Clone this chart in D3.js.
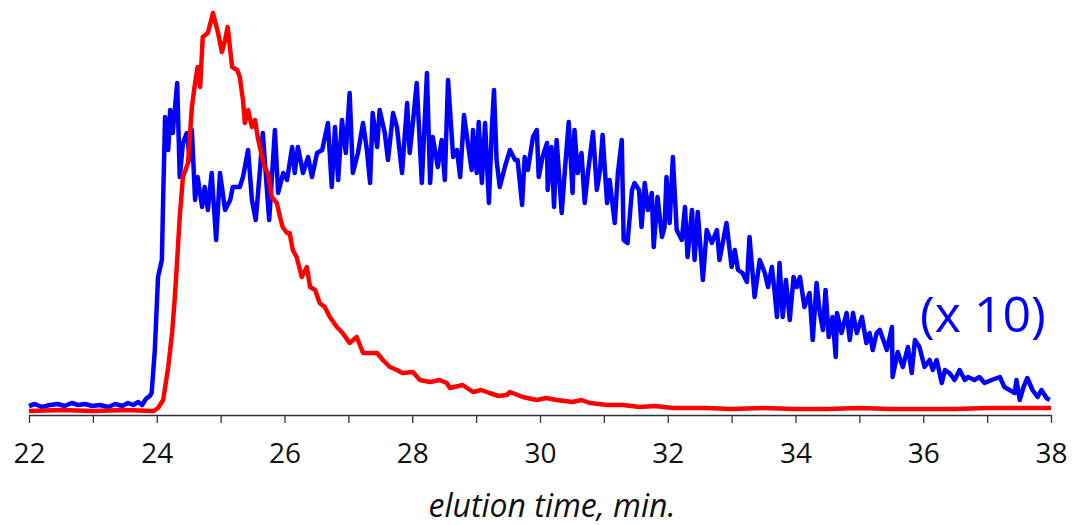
<!DOCTYPE html>
<html>
<head>
<meta charset="utf-8">
<script src="https://cdn.jsdelivr.net/npm/d3@7"></script>
<style>
  body { margin: 0; background: #fff; }
  svg { display: block; }
</style>
</head>
<body>
<div id="chart"></div>
<script>
//Constantes
const width = 1078
const height = 525

// elution time (min) / signal (a.u.)
// red = main trace
const redTrace = [
  [22.00, 0], [22.50, 0.25], [23.00, 0], [23.50, 0.25], [23.95, 0], [24.02, 0.75], [24.10, 2.75],
  [24.18, 11], [24.24, 19.5], [24.28, 27.75], [24.32, 37.75], [24.36, 48.5], [24.41, 58.5],
  [24.49, 62], [24.55, 76], [24.60, 82], [24.64, 86], [24.68, 81], [24.72, 93.5], [24.80, 94.5],
  [24.88, 99.5], [24.96, 94.5], [25.02, 89.75], [25.07, 92.75], [25.11, 96], [25.18, 86],
  [25.26, 85.25], [25.30, 83.5], [25.35, 77.75], [25.38, 72], [25.43, 75.25], [25.49, 71],
  [25.54, 72.75], [25.58, 68.5], [25.65, 63.5], [25.69, 61], [25.74, 59.5], [25.80, 53.5],
  [25.88, 52], [25.93, 48.5], [25.97, 46], [26.04, 44.5], [26.08, 44.5], [26.13, 40.25],
  [26.19, 38.5], [26.27, 33.5], [26.35, 36], [26.40, 31], [26.48, 30.25], [26.55, 27],
  [26.63, 26], [26.71, 23.5], [26.82, 21], [26.91, 19.5], [27.02, 17], [27.13, 18.5],
  [27.23, 14.5], [27.34, 14.5], [27.45, 14.5], [27.54, 12.75], [27.65, 11], [27.76, 10.25],
  [27.85, 9.5], [28.01, 9.75], [28.12, 7.75], [28.28, 7.25], [28.43, 7.75], [28.54, 7],
  [28.59, 5.75], [28.79, 6.5], [28.95, 4.75], [29.08, 5.25], [29.21, 4.5], [29.35, 3.75],
  [29.48, 4], [29.53, 4.75], [29.73, 3.5], [29.95, 2.75], [30.10, 3.25], [30.26, 2.75],
  [30.51, 2.25], [30.65, 2.75], [30.78, 2], [31.05, 1.5], [31.30, 1.5], [31.56, 1],
  [31.80, 1.25], [32.08, 0.75], [32.61, 0.75], [33.00, 0.5], [33.50, 0.75], [34.00, 0.5],
  [34.50, 0.5], [35.00, 0.75], [35.50, 0.5], [36.00, 0.5], [36.50, 0.5], [37.00, 0.75],
  [37.50, 0.75], [38.00, 0.75]
]

// blue = second trace, shown x 10
const blueTrace = [
  [22.00, 1.25], [22.09, 1.75], [22.20, 1.0], [22.33, 1.5], [22.45, 1.75], [22.56, 1.25],
  [22.67, 2.0], [22.77, 1.5], [22.88, 1.75], [22.99, 1.25], [23.11, 1.5], [23.24, 1.0],
  [23.35, 1.75], [23.46, 1.25], [23.55, 2.0], [23.63, 1.5], [23.71, 2.25], [23.77, 1.5],
  [23.83, 3.0], [23.89, 3.75], [23.92, 4.5], [23.97, 15.25], [24.02, 33.5], [24.08, 37.75],
  [24.10, 52.75], [24.13, 73.5], [24.18, 65.25], [24.21, 75.25], [24.25, 69.5], [24.32, 82],
  [24.36, 58.5], [24.41, 67], [24.47, 69.5], [24.52, 62.75], [24.55, 70.25], [24.60, 52.75],
  [24.64, 58.5], [24.71, 51], [24.75, 56], [24.80, 50.25], [24.86, 59.5], [24.93, 42.75],
  [24.99, 59.5], [25.07, 50.25], [25.15, 52.75], [25.19, 56], [25.30, 56], [25.35, 58.5],
  [25.43, 65.25], [25.49, 52.75], [25.55, 47.75], [25.62, 61], [25.66, 69.5], [25.76, 47.75],
  [25.85, 70.25], [25.90, 54.5], [25.98, 59.5], [26.04, 57.75], [26.12, 66], [26.16, 59.5],
  [26.21, 66], [26.29, 59.5], [26.37, 63.5], [26.43, 58.5], [26.51, 64.5], [26.59, 65.25],
  [26.68, 72], [26.74, 56], [26.79, 71], [26.84, 57.75], [26.90, 72.75], [26.96, 64.5],
  [27.02, 79.5], [27.07, 59.5], [27.15, 64.5], [27.23, 72], [27.29, 65.25], [27.34, 57],
  [27.38, 74.5], [27.45, 66], [27.49, 75.25], [27.57, 69.5], [27.62, 62.75], [27.70, 74.5],
  [27.76, 71], [27.84, 59.5], [27.92, 77], [27.96, 64.5], [28.01, 72], [28.07, 82],
  [28.15, 57], [28.23, 84.5], [28.28, 57], [28.32, 68.5], [28.40, 61], [28.46, 67.75],
  [28.51, 57.75], [28.56, 82.75], [28.64, 63.5], [28.70, 65.25], [28.75, 58.5], [28.81, 74],
  [28.87, 67], [28.93, 60.25], [28.95, 70.25], [29.01, 59.5], [29.04, 72.25], [29.09, 57],
  [29.14, 72], [29.20, 52], [29.25, 72], [29.28, 80.25], [29.32, 62.75], [29.37, 56],
  [29.45, 61], [29.53, 65.25], [29.61, 62.75], [29.65, 62.75], [29.72, 51.5], [29.76, 63.5],
  [29.81, 60.25], [29.89, 68.5], [29.95, 70.25], [29.98, 58.5], [30.04, 63.5], [30.11, 67],
  [30.12, 55.25], [30.18, 66], [30.22, 51], [30.26, 67.75], [30.34, 49.5], [30.39, 60.25],
  [30.45, 72.25], [30.51, 54.5], [30.54, 70.25], [30.59, 59.5], [30.65, 64.5], [30.70, 52],
  [30.75, 59.5], [30.83, 69.75], [30.89, 55.25], [30.94, 60.25], [30.98, 69], [31.05, 52],
  [31.09, 57.75], [31.17, 47], [31.22, 59.5], [31.28, 67.75], [31.31, 42.75], [31.37, 42],
  [31.44, 55.25], [31.48, 57], [31.55, 55.25], [31.59, 46], [31.64, 57], [31.69, 50.25],
  [31.75, 54.5], [31.78, 41], [31.84, 53.5], [31.91, 43.5], [31.95, 46], [31.98, 58.5],
  [32.03, 47], [32.08, 63.5], [32.14, 45.25], [32.22, 42.75], [32.27, 51], [32.31, 38.5],
  [32.38, 50.25], [32.42, 37.75], [32.47, 49.75], [32.55, 32.75], [32.61, 45.25], [32.69, 42],
  [32.77, 45.25], [32.81, 37.75], [32.92, 47], [33.00, 36], [33.05, 40.25], [33.10, 35.25],
  [33.17, 34.5], [33.24, 32.25], [33.28, 43.5], [33.36, 28.5], [33.44, 37.75], [33.52, 34.5],
  [33.57, 31], [33.63, 36], [33.67, 30.25], [33.71, 23.5], [33.75, 37], [33.80, 23.5],
  [33.85, 32.75], [33.91, 22.75], [33.97, 33.5], [34.02, 31], [34.07, 33.5], [34.14, 26],
  [34.22, 29.5], [34.27, 17.75], [34.33, 32], [34.38, 24.5], [34.43, 20.25], [34.47, 30.25],
  [34.52, 18.5], [34.58, 23.5], [34.63, 13.5], [34.65, 24.5], [34.72, 19.5], [34.80, 24.5],
  [34.85, 17.75], [34.90, 24.5], [34.96, 19.5], [35.04, 23.5], [35.11, 17], [35.16, 19.5],
  [35.21, 15.25], [35.27, 19.5], [35.32, 20.25], [35.43, 15.25], [35.51, 21], [35.52, 8.5],
  [35.60, 14.75], [35.68, 11], [35.76, 16], [35.82, 9.5], [35.87, 17.75], [35.94, 16],
  [36.02, 11], [36.10, 12.75], [36.15, 10.25], [36.21, 12.75], [36.29, 7], [36.34, 10.25],
  [36.41, 9.5], [36.49, 7.75], [36.57, 10.25], [36.65, 7.75], [36.70, 8.5], [36.80, 7.75],
  [36.88, 8.5], [36.96, 7], [37.07, 7.75], [37.20, 8.5], [37.27, 6], [37.35, 5.25],
  [37.43, 4.5], [37.46, 7.75], [37.51, 2.75], [37.57, 6], [37.63, 8.25], [37.71, 5.25],
  [37.79, 3.5], [37.85, 5.25], [37.93, 3.25], [37.98, 2.75]
]

const xTicks = d3.range(22, 39, 1)
const xLabels = [22, 24, 26, 28, 30, 32, 34, 36, 38]
const xTitle = "elution time, min."
const scaleNote = "(x 10)"

const svg = d3.select("#chart").append("svg")
    .attr("width", width)
    .attr("height", height)

const x = d3.scaleLinear().domain([22, 38]).range([29, 1051])
const y = d3.scaleLinear().domain([0, 100]).range([411, 11])

// axe du bas
const axisY = 415
const xAxis = d3.axisBottom(x)
    .tickValues(xTicks)
    .tickSize(8)
    .tickSizeOuter(0)
    .tickFormat(d => xLabels.includes(d) ? d : "")

const gx = svg.append("g")
    .attr("transform", `translate(0,${axisY})`)
    .call(xAxis)

gx.select(".domain").attr("stroke", "#333").attr("stroke-width", 1.5)
gx.selectAll(".tick line").attr("stroke", "#333").attr("stroke-width", 1.3)
gx.selectAll(".tick text")
    .attr("y", 48)
    .attr("dy", 0)
    .style("font-family", "'Open Sans', sans-serif")
    .style("font-size", "28px")
    .attr("fill", "#111")

svg.append("text")
    .attr("x", 552)
    .attr("y", 517)
    .attr("text-anchor", "middle")
    .style("font-family", "'Open Sans', sans-serif")
    .style("font-style", "italic")
    .style("font-size", "32px")
    .attr("fill", "#111")
    .text(xTitle)

// traces
const line = d3.line()
    .x(d => x(d[0]))
    .y(d => y(d[1]))

svg.append("path")
    .datum(blueTrace)
    .attr("fill", "none")
    .attr("stroke", "#0000ff")
    .attr("stroke-width", 4.5)
    .attr("stroke-linejoin", "round")
    .attr("d", line)

svg.append("path")
    .datum(redTrace)
    .attr("fill", "none")
    .attr("stroke", "#ff0000")
    .attr("stroke-width", 4.5)
    .attr("stroke-linejoin", "round")
    .attr("d", line)

svg.append("text")
    .attr("x", 920)
    .attr("y", 332)
    .style("font-family", "'Open Sans', sans-serif")
    .style("font-size", "50px")
    .attr("fill", "#0000ff")
    .text(scaleNote)
</script>
</body>
</html>
